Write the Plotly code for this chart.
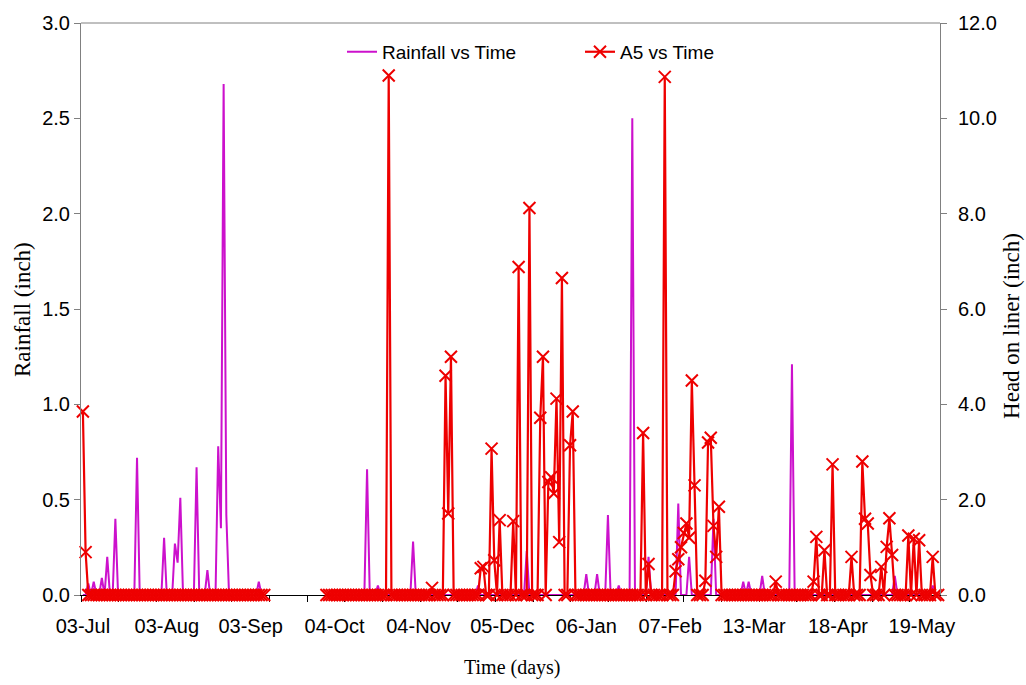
import plotly.graph_objects as go
from plotly.subplots import make_subplots

# ---- data (daily records, index = day number on category axis) ----
n_days = 317
gap_first, gap_last = 68, 89          # no records in this span

tick_idx = [0, 31, 62, 93, 124, 155, 186, 217, 248, 279, 310]
tick_labels = ["03-Jul", "03-Aug", "03-Sep", "04-Oct", "04-Nov", "05-Dec",
               "06-Jan", "07-Feb", "13-Mar", "18-Apr", "19-May"]

# rainfall (inch) on days with rain; all other recorded days are 0
rain_idx = [2, 4, 7, 9, 12, 20, 30, 34, 35, 36, 42, 46, 50, 51, 52, 53, 65,
            105, 109, 122, 146, 164, 186, 190, 194, 198, 203, 209, 220, 224,
            233, 244, 246, 251, 262, 300, 314]
rain_val = [0.06, 0.07, 0.09, 0.20, 0.40, 0.72, 0.30, 0.27, 0.17, 0.51, 0.67, 0.13, 0.78, 0.35, 2.68, 0.42, 0.07,
            0.66, 0.05, 0.28, 0.05, 0.23, 0.11, 0.11, 0.42, 0.05, 2.50, 0.20, 0.48, 0.20,
            0.40, 0.07, 0.07, 0.10, 1.21, 0.10, 0.05]

# A5 head on liner (inch) on days with head; all other recorded days are 0
a5_idx = [0, 1, 113, 129, 134, 135, 136, 147, 148, 151, 152, 154, 159, 161, 165,
          169, 170, 172, 173, 174, 175, 176, 177, 180, 181,
          207, 209, 215, 219, 220, 221, 222, 223, 224, 225, 226, 230, 231, 232, 233, 234, 235,
          256, 270, 271, 274, 277, 284, 288, 289, 290, 291, 295, 297, 298, 299,
          305, 307, 309, 314]
a5_val = [3.85, 0.90, 10.90, 0.15, 4.60, 1.71, 5.00, 0.56, 0.59, 3.07, 0.73, 1.57, 1.55, 6.88, 8.12,
          3.72, 5.00, 2.37, 2.47, 2.13, 4.12, 1.11, 6.65, 3.14, 3.85,
          3.40, 0.65, 10.87, 0.50, 0.75, 1.00, 1.30, 1.50, 1.20, 4.50, 2.30, 0.30, 3.20, 3.30, 1.45, 0.80, 1.85,
          0.28, 0.28, 1.22, 0.94, 2.74, 0.80, 2.80, 1.60, 1.50, 0.42, 0.59, 1.01, 1.61, 0.84,
          1.25, 1.18, 1.15, 0.80]

days = list(range(n_days))
rain = [0.0] * n_days
a5 = [0.0] * n_days
for i, v in zip(rain_idx, rain_val):
    rain[i] = v
for i, v in zip(a5_idx, a5_val):
    a5[i] = v
for i in range(gap_first, gap_last + 1):
    rain[i] = None
    a5[i] = None

# ---- figure ----
SANS = "Liberation Sans, Arial, sans-serif"
SERIF = "Liberation Serif, Times New Roman, serif"
RED = "#EE0000"
MAG = "#CC11CC"

fig = make_subplots(specs=[[{"secondary_y": True}]])

fig.add_trace(go.Scatter(
    x=days, y=rain, mode="lines", name="Rainfall vs Time",
    line=dict(color=MAG, width=2), cliponaxis=False, connectgaps=False,
    legend="legend", showlegend=True), secondary_y=False)

fig.add_trace(go.Scatter(
    x=days, y=a5, mode="lines+markers", name="A5 vs Time",
    line=dict(color=RED, width=2.2),
    marker=dict(symbol="x-thin", size=12, color=RED, line=dict(color=RED, width=2)),
    cliponaxis=False, connectgaps=False, legend="legend2", showlegend=True), secondary_y=True)

fig.update_layout(
    width=1026, height=685,
    margin=dict(l=81, r=86, t=21, b=90),
    paper_bgcolor="white", plot_bgcolor="white",
    showlegend=True,
    font=dict(family=SANS, size=20, color="black"),
    legend=dict(x=(342 - 81) / 859, y=(595 - 50) / 574, xanchor="left", yanchor="middle",
                bgcolor="rgba(0,0,0,0)", borderwidth=0, font=dict(family=SANS, size=19)),
    legend2=dict(x=(580 - 81) / 859, y=(595 - 50) / 574, xanchor="left", yanchor="middle",
                 bgcolor="rgba(0,0,0,0)", borderwidth=0, font=dict(family=SANS, size=19)),
    shapes=[dict(type="line", xref="paper", yref="paper", x0=0, x1=1, y0=1, y1=1,
                 line=dict(color="#808080", width=1))],
    annotations=[
        dict(text="Time (days)", xref="paper", yref="paper", x=(512 - 81) / 859, y=(595 - 668) / 574,
             xanchor="center", yanchor="middle", showarrow=False, font=dict(family=SERIF, size=20)),
        dict(text="Rainfall (inch)", xref="paper", yref="paper", x=(22 - 81) / 859, y=0.5,
             xanchor="center", yanchor="middle", textangle=-90, showarrow=False,
             font=dict(family=SERIF, size=23)),
        dict(text="Head on liner (inch)", xref="paper", yref="paper", x=(1012 - 81) / 859,
             y=(595 - 325) / 574, xanchor="center", yanchor="middle", textangle=-90,
             showarrow=False, font=dict(family=SERIF, size=23)),
    ],
)

fig.update_xaxes(
    domain=[0, 1],
    range=[-0.7, 316.7], tickmode="array", tickvals=tick_idx, ticktext=tick_labels,
    ticks="", showline=True, linecolor="black", linewidth=1, showgrid=False, zeroline=False,
    tickfont=dict(family=SANS, size=20), ticklabelstandoff=13, layer="below traces",
    minor=dict(tickmode="linear", tick0=-0.7, dtick=13.92, ticks="outside", ticklen=6,
               tickcolor="black", showgrid=False),
)
fig.update_yaxes(
    range=[0, 3], tickmode="linear", tick0=0, dtick=0.5, tickformat=".1f",
    showline=True, linecolor="#808080", linewidth=1, ticks="outside", ticklen=6,
    tickcolor="#808080", showgrid=False, zeroline=False,
    tickfont=dict(family=SANS, size=20), secondary_y=False,
)
fig.update_yaxes(
    range=[0, 12], tickmode="linear", tick0=0, dtick=2, tickformat=".1f",
    showline=True, linecolor="#808080", linewidth=1, ticks="outside", ticklen=6,
    tickcolor="#808080", showgrid=False, zeroline=False, ticklabelstandoff=7,
    tickfont=dict(family=SANS, size=20), secondary_y=True,
)

fig.write_html("out.html")
